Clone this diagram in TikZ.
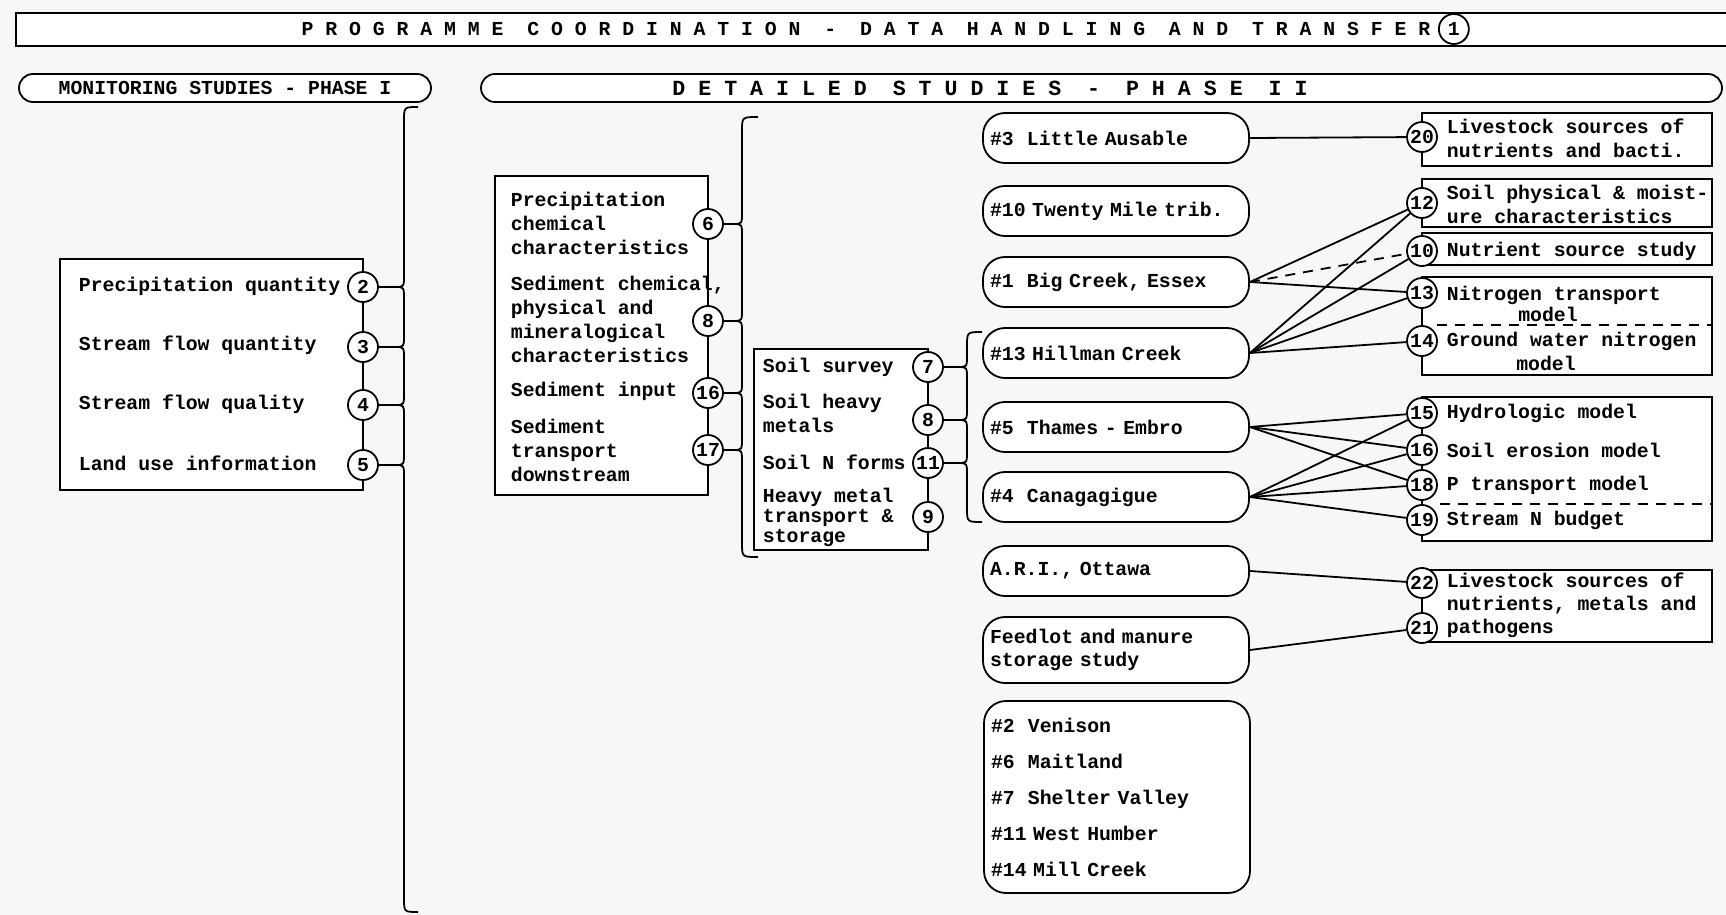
\documentclass[tikz,border=0pt]{standalone}
\usepackage{fontspec}
\setmainfont{Liberation Mono}
\usetikzlibrary{positioning}

\begin{document}
\begin{tikzpicture}
[x=0.5pt,y=-0.5pt,line width=0.9pt,%
  every node/.style={font=\fontsize{9.9}{12}\selectfont\bfseries},%
  num/.style={shape=circle,draw,fill=white,inner sep=0pt,minimum size=15pt},%
  site/.style={draw,fill=white,rounded corners=11pt,text width=126pt,inner xsep=3.5pt,minimum height=25pt,align=left},%
  phase/.style={draw,fill=white,rounded corners=7pt,minimum height=14pt,inner sep=0pt},%
  lbl/.style={anchor=west,inner sep=0pt,align=left},%
  hint/.style={dash pattern=on 5pt off 4pt}]
\useasboundingbox (0,0) rectangle (1726,915);
\fill[black!3] (0,0) rectangle (1726,915);
\draw[fill=white] (1726,13) -- (16,13) -- (16,46) -- (1726,46);
\node (title) at (866,29) {P~R~O~G~R~A~M~M~E~~C~O~O~R~D~I~N~A~T~I~O~N~~-~~D~A~T~A~~H~A~N~D~L~I~N~G~~A~N~D~~T~R~A~N~S~F~E~R};
\node[num,right=0pt of title] (c1) {1};
\node[phase,minimum width=206pt] (ph1) at (225,88) {MONITORING STUDIES - PHASE I};
\node[phase,minimum width=620.5pt] (ph2) at (1101.5,88) {};
\node[font=\fontsize{10.8}{12}\selectfont\bfseries] (ph2t) at (990,88) {D~E~T~A~I~L~E~D~~S~T~U~D~I~E~S~~-~~P~H~A~S~E~~I~I};

\draw[fill=white] (363,259) -- (60,259) -- (60,490) -- (363,490) -- cycle;
\node[lbl] (pq) at (78,286) {Precipitation quantity};
\node[lbl] (sq) at (78,345) {Stream flow quantity};
\node[lbl] (sf) at (78,404) {Stream flow quality};
\node[lbl] (lu) at (78,463) {Land use information};
\foreach \n/\y in {2/287,3/347,4/405,5/465}
  \node[num] (p\n) at (363,\y) {\n};
\foreach \n in {2,...,5}
  \draw (p\n.east) -- ++(17,0);
\foreach \ya/\yb in {287/347,347/405,405/465}
  \draw (395,\ya) .. controls (404,\ya) .. (404,\ya+12) -- (404,\yb-12) .. controls (404,\yb) .. (395,\yb);
\draw (395,287) .. controls (404,287) .. (404,275) -- (404,121) .. controls (404,107) .. (418,107);
\draw (395,465) .. controls (404,465) .. (404,477) -- (404,898) .. controls (404,912) .. (418,912);

\draw[fill=white] (708,176) -- (495,176) -- (495,495) -- (708,495) -- cycle;
\node[lbl] (pcc) at (510,223) {Precipitation\\chemical\\characteristics};
\node[lbl] (scp) at (510,319) {Sediment chemical,\\physical and\\mineralogical\\characteristics};
\node[lbl] (si) at (510,391) {Sediment input};
\node[lbl] (std) at (510,450) {Sediment\\transport\\downstream};
\foreach \n/\y in {6/224,8/321,16/393,17/450}
  \node[num] (m\n) at (708,\y) {\n};
\foreach \n in {6,8,16,17}
  \draw (m\n.east) -- ++(10,0);
\foreach \ya/\yb in {224/321,321/393,393/450}
  \draw (733,\ya) .. controls (742,\ya) .. (742,\ya+12) -- (742,\yb-12) .. controls (742,\yb) .. (733,\yb);
\draw (733,224) .. controls (742,224) .. (742,212) -- (742,131) .. controls (742,117) .. (758,117);
\draw (733,450) .. controls (742,450) .. (742,462) -- (742,543) .. controls (742,557) .. (758,557);

\draw[fill=white] (928,349) -- (754,349) -- (754,550) -- (928,550) -- cycle;
\node[lbl] (ss) at (762,367) {Soil survey};
\node[lbl] (shm) at (762,413) {Soil heavy\\metals};
\node[lbl] (snf) at (762,462) {Soil N forms};
\node[lbl,font=\fontsize{9.9}{10}\selectfont\bfseries] (hmt) at (762,517) {Heavy metal\\transport \&\\storage};
\foreach \n/\y in {7/367,8/420,11/463,9/517}
  \node[num] (s\n) at (928,\y) {\n};
\foreach \n in {7,8,11}
  \draw (s\n.east) -- ++(15,0);
\foreach \ya/\yb in {367/420,420/463}
  \draw (958,\ya) .. controls (967,\ya) .. (967,\ya+12) -- (967,\yb-12) .. controls (967,\yb) .. (958,\yb);
\draw (958,367) .. controls (967,367) .. (967,355) -- (967,346) .. controls (967,332) .. (982,332);
\draw (958,463) .. controls (967,463) .. (967,475) -- (967,508) .. controls (967,522) .. (982,522);

\node[site] (la) at (1116,138) {\#3~~Little Ausable};
\node[site] (tm) at (1116,211) {\#10 Twenty Mile trib.};
\node[site] (bc) at (1116,282) {\#1~~Big Creek, Essex};
\node[site] (hc) at (1116,353) {\#13 Hillman Creek};
\node[site] (te) at (1116,427) {\#5~~Thames - Embro};
\node[site] (cg) at (1116,497) {\#4~~Canagagigue};
\node[site] (ari) at (1116,571) {A.R.I., Ottawa};
\node[site,minimum height=33pt,font=\fontsize{9.9}{11.5}\selectfont\bfseries] (fm) at (1116,650) {Feedlot and manure\\storage study};
\node[site,minimum height=96pt,font=\fontsize{9.9}{18}\selectfont\bfseries] (oth) at (1117,797) {\#2~~Venison\\\#6~~Maitland\\\#7~~Shelter Valley\\\#11 West Humber\\\#14 Mill Creek};

\draw[fill=white] (1422,113) rectangle (1712,166);
\draw[fill=white] (1422,179) rectangle (1712,227);
\draw[fill=white] (1422,233) rectangle (1712,265);
\draw[fill=white] (1422,277) rectangle (1712,375);
\draw[hint] (1437,325) -- (1712,325);
\draw[fill=white] (1422,397) rectangle (1712,541);
\draw[hint] (1440,504) -- (1712,504);
\draw[fill=white] (1422,570) rectangle (1712,642);
\node[lbl] (r20) at (1446,138) {Livestock sources of\\nutrients and bacti.};
\node[lbl] (r12) at (1446,204) {Soil physical \& moist-\\ure characteristics};
\node[lbl] (r10) at (1446,251) {Nutrient source study};
\node[lbl] (r13) at (1446,295) {Nitrogen transport};
\node (r13m) at (1548,314) {model};
\node[lbl] (r14) at (1446,341) {Ground water nitrogen};
\node (r14m) at (1546,363) {model};
\node[lbl] (r15) at (1446,413) {Hydrologic model};
\node[lbl] (r16) at (1446,450) {Soil erosion model};
\node[lbl] (r18) at (1446,485) {P transport model};
\node[lbl] (r19) at (1446,520) {Stream N budget};
\node[lbl,font=\fontsize{9.9}{11.5}\selectfont\bfseries] (r22) at (1446,605) {Livestock sources of\\nutrients, metals and\\pathogens};
\foreach \n/\y in {20/137,12/203,10/251,13/293,14/341,15/413,16/450,18/485,19/520,22/583,21/628}
  \node[num] (q\n) at (1422,\y) {\n};

\draw (la.east) -- (q20);
\foreach \q in {12,13}
  \draw (bc.east) -- (q\q);
\draw[hint] (bc.east) -- (q10);
\foreach \q in {12,10,13,14}
  \draw (hc.east) -- (q\q);
\foreach \q in {15,16,18}
  \draw (te.east) -- (q\q);
\foreach \q in {15,16,18,19}
  \draw (cg.east) -- (q\q);
\draw (ari.east) -- (q22);
\draw (fm.east) -- (q21);
\end{tikzpicture}
\end{document}
